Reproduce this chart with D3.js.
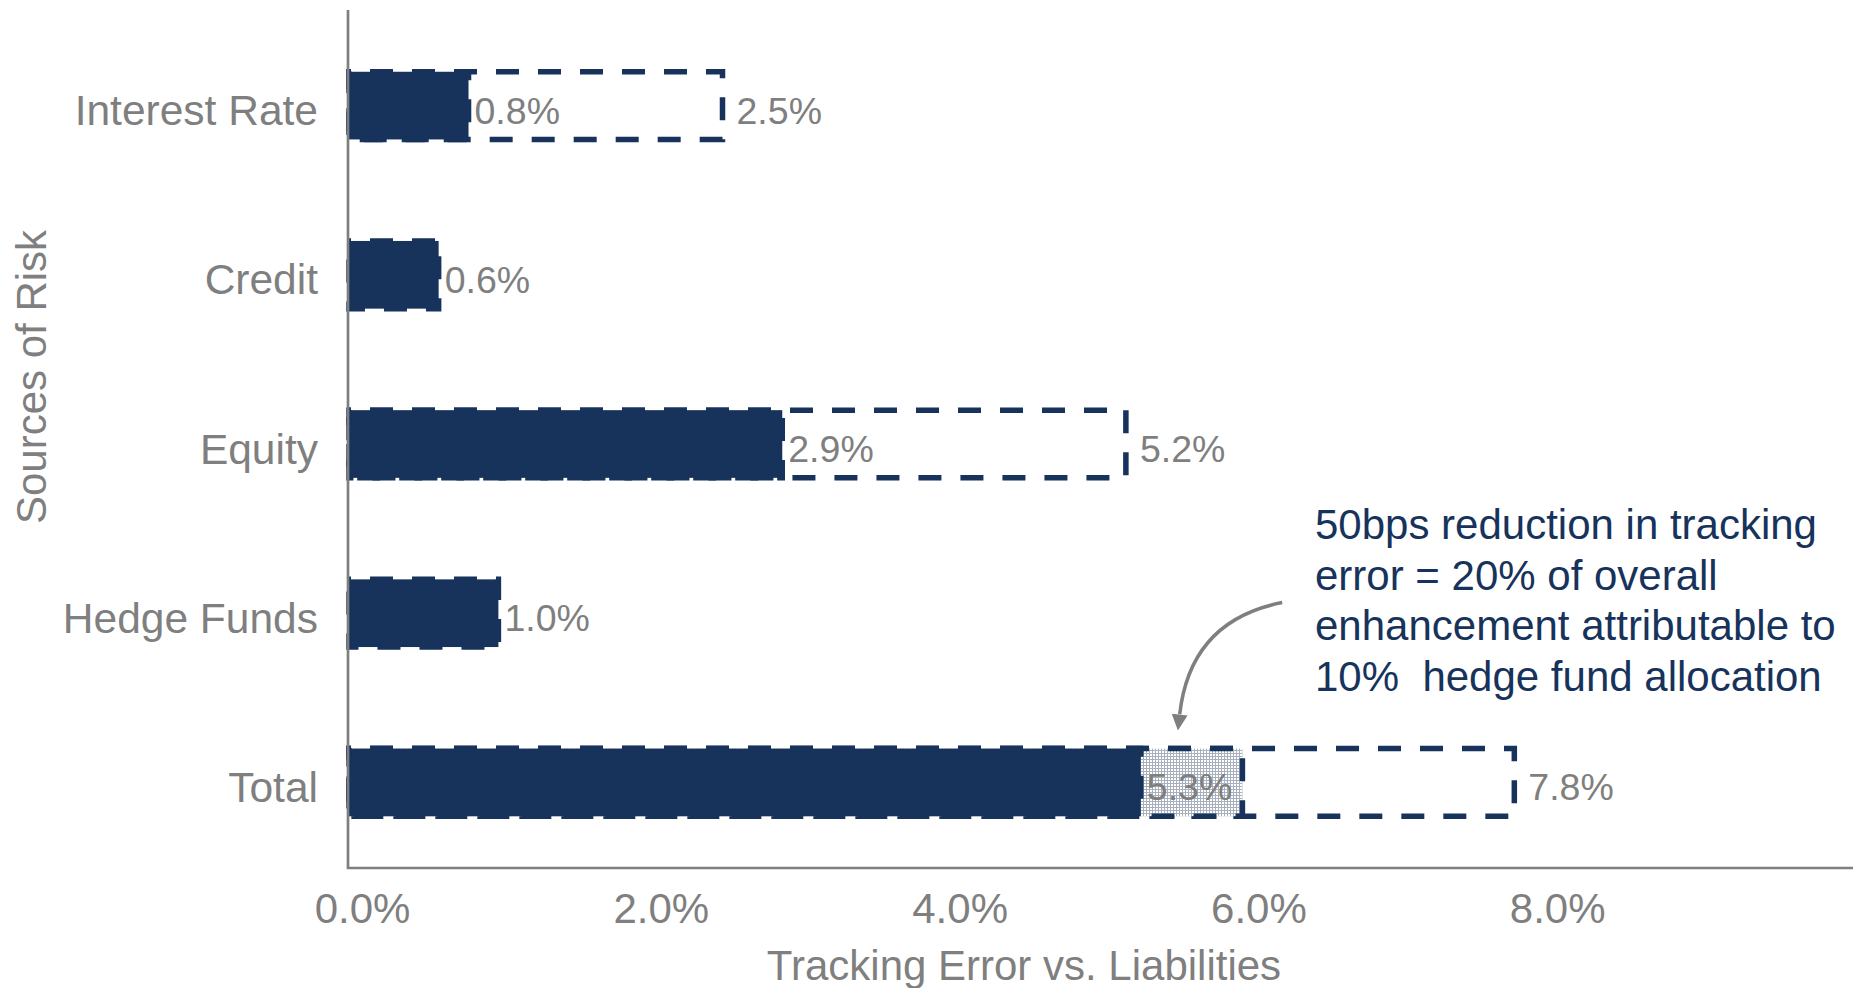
<!DOCTYPE html>
<html lang="en">
<head>
<meta charset="UTF-8">
<title>Sources of Risk - Tracking Error vs. Liabilities</title>
<style>
  body { margin: 0; background: #fff; }
  svg { display: block; font-family: "Liberation Sans", Arial, sans-serif; }
</style>
</head>
<body>
<svg id="chart"></svg>
<script src="https://d3js.org/d3.v7.min.js"></script>
<script>
// data
const categories = ["Interest Rate", "Credit", "Equity", "Hedge Funds", "Total"];
// tracking error with the hedge fund allocation (solid bars)
const currentTE = [0.8, 0.6, 2.9, 1.0, 5.3];
// tracking error before (dashed outline)
const previousTE = [2.5, null, 5.2, null, 7.8];
// total without the hedge fund allocation (patterned piece)
const withoutHedgeTE = [null, null, null, null, 5.98];
const xTicks = [0, 2, 4, 6, 8];
const noteLines = [
  "50bps reduction in tracking",
  "error = 20% of overall",
  "enhancement attributable to",
  "10%  hedge fund allocation"
];

const width = 1861, height = 988;
const navy = "#17335b", grey = "#7f7f7f";
const font = '"Liberation Sans", Arial, sans-serif';

const rows = categories.map((c, i) => ({
  cat: c, cur: currentTE[i], prev: previousTE[i], noHf: withoutHedgeTE[i]
}));

const svg = d3.select("#chart").attr("width", width).attr("height", height);

const x = d3.scaleLinear().domain([0, 10]).range([349, 1843]);
const y = d3.scaleBand().domain(categories).range([21, 867])
  .paddingInner(0.6).paddingOuter(0.3);
const bw = y.bandwidth();

const defs = svg.append("defs");
const pat = defs.append("pattern")
  .attr("id", "smallGrid")
  .attr("width", 3).attr("height", 3)
  .attr("patternUnits", "userSpaceOnUse");
pat.append("rect").attr("width", 3).attr("height", 3).attr("fill", "#fff");
pat.append("path").attr("d", "M0,0.5H3M0.5,0V3")
  .attr("stroke", "#a9b0bd").attr("stroke-width", 1);

defs.append("marker")
  .attr("id", "arrowHead")
  .attr("viewBox", "0 -5 10 10")
  .attr("refX", 0).attr("refY", 0)
  .attr("markerUnits", "userSpaceOnUse")
  .attr("markerWidth", 16).attr("markerHeight", 16)
  .attr("orient", "auto")
  .append("path").attr("d", "M0,-5L10,0L0,5Z").attr("fill", grey);

// dashed outline used on every bar
function dashed(sel) {
  return sel.attr("stroke", navy)
    .attr("stroke-width", 5.5)
    .attr("stroke-dasharray", "23,19")
    .attr("stroke-dashoffset", 21);
}

const bars = svg.append("g");

// before: dashed outline boxes
bars.selectAll("rect.prev")
  .data(rows.filter(d => d.prev != null))
  .join("rect")
  .attr("class", "prev")
  .attr("x", x(0))
  .attr("y", d => y(d.cat))
  .attr("width", d => x(d.prev) - x(0))
  .attr("height", bw)
  .attr("fill", "none")
  .call(dashed);

// total without hedge funds: patterned
bars.selectAll("rect.nohf")
  .data(rows.filter(d => d.noHf != null))
  .join("rect")
  .attr("class", "nohf")
  .attr("x", x(0))
  .attr("y", d => y(d.cat))
  .attr("width", d => x(d.noHf) - x(0))
  .attr("height", bw)
  .attr("fill", "url(#smallGrid)")
  .call(dashed);

// current: solid bars
bars.selectAll("rect.cur")
  .data(rows)
  .join("rect")
  .attr("class", "cur")
  .attr("x", x(0))
  .attr("y", d => y(d.cat))
  .attr("width", d => x(d.cur) - x(0))
  .attr("height", bw)
  .attr("fill", navy)
  .call(dashed);

const fmt = v => v.toFixed(1) + "%";

// value labels
bars.selectAll("text.curLab")
  .data(rows)
  .join("text")
  .attr("class", "curLab")
  .attr("x", d => x(d.cur) + 6)
  .attr("y", d => y(d.cat) + bw / 2 + 18)
  .attr("fill", grey)
  .style("font-size", "37.5px")
  .text(d => fmt(d.cur));

bars.selectAll("text.prevLab")
  .data(rows.filter(d => d.prev != null))
  .join("text")
  .attr("class", "prevLab")
  .attr("x", d => x(d.prev) + 14)
  .attr("y", d => y(d.cat) + bw / 2 + 18)
  .attr("fill", grey)
  .style("font-size", "37.5px")
  .text(d => fmt(d.prev));

// axes
const axisBottomY = 868;
svg.append("path")
  .attr("d", `M${x(0) - 1},10V${axisBottomY}H1853`)
  .attr("fill", "none")
  .attr("stroke", grey)
  .attr("stroke-width", 2.7);

const xAxis = svg.append("g")
  .attr("transform", `translate(0,${axisBottomY})`)
  .call(d3.axisBottom(x).tickValues(xTicks).tickFormat(fmt).tickSize(0).tickPadding(25));
xAxis.select(".domain").remove();
xAxis.selectAll("text")
  .attr("dx", 13)
  .attr("fill", grey)
  .style("font-size", "42px")
  .style("font-family", font);

const yAxis = svg.append("g")
  .attr("transform", `translate(${x(0)},0)`)
  .call(d3.axisLeft(y).tickSize(0).tickPadding(31));
yAxis.select(".domain").remove();
yAxis.selectAll("text")
  .attr("dy", "0.46em")
  .attr("fill", grey)
  .style("font-size", "42.5px")
  .style("font-family", font);

// axis titles
svg.append("text")
  .attr("x", 1024)
  .attr("y", 980)
  .attr("text-anchor", "middle")
  .attr("fill", grey)
  .style("font-size", "42px")
  .text("Tracking Error vs. Liabilities");

svg.append("text")
  .attr("transform", "rotate(-90)")
  .attr("x", -377)
  .attr("y", 46)
  .attr("text-anchor", "middle")
  .attr("fill", grey)
  .style("font-size", "42px")
  .text("Sources of Risk");

// annotation + arrow pointing at the total bar
const tipX = x(5.55), tipY = y("Total") - 18;
svg.append("path")
  .attr("d", `M${tipX + 104},${tipY - 128}Q${tipX + 12},${tipY - 110} ${tipX + 1.5},${tipY - 16}`)
  .attr("fill", "none")
  .attr("stroke", grey)
  .attr("stroke-width", 3.5)
  .attr("marker-end", "url(#arrowHead)");

svg.append("text")
  .attr("x", 1315)
  .attr("y", 539)
  .attr("fill", navy)
  .style("font-size", "42px")
  .style("white-space", "pre")
  .selectAll("tspan")
  .data(noteLines)
  .join("tspan")
  .attr("x", 1315)
  .attr("dy", (d, i) => i === 0 ? 0 : 50.5)
  .text(d => d);
</script>
</body>
</html>
